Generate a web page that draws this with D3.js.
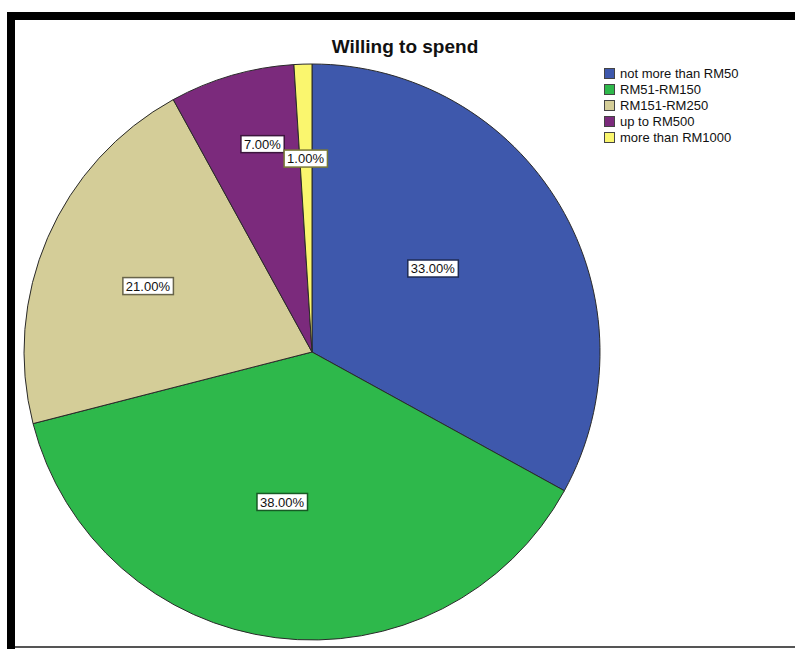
<!DOCTYPE html>
<html>
<head>
<meta charset="utf-8">
<script src="https://cdn.jsdelivr.net/npm/d3@7/dist/d3.min.js"></script>
<style>
  html, body { margin: 0; padding: 0; background: #fff; }
  svg { display: block; }
  text { font-family: "Liberation Sans", Arial, sans-serif; }
</style>
</head>
<body>
<svg id="chart" width="795" height="649"></svg>
<script>
// Survey answers: how much respondents are willing to spend
const categories = ["not more than RM50", "RM51-RM150", "RM151-RM250", "up to RM500", "more than RM1000"];
const percents = [33, 38, 21, 7, 1];
const colors = ["#3e58ac", "#2eb84b", "#d4cd98", "#7b2a7c", "#faf66e"];
const title = "Willing to spend";

// Where each percentage tag sits inside its slice:
// share of the slice's sweep, and fraction of the radius
const labelSweep = [0.466, 0.53, 0.48, 0.61, 0.47];
const labelDepth = [0.51, 0.531, 0.614, 0.742, 0.672];

const W = 795, H = 649;
const svg = d3.select("#chart");

// Outer frame
svg.append("rect").attr("x", 0).attr("y", 0).attr("width", W).attr("height", H).attr("fill", "#fff");
svg.append("rect").attr("x", 7).attr("y", 12).attr("width", 8).attr("height", H - 12).attr("fill", "#000");
svg.append("rect").attr("x", 7).attr("y", 12).attr("width", W - 7).attr("height", 8).attr("fill", "#000");
svg.append("rect").attr("x", 15).attr("y", 646).attr("width", W - 15).attr("height", 2).attr("fill", "#555");

// Title, centred on the framed area
svg.append("text")
  .attr("x", 405).attr("y", 53)
  .attr("text-anchor", "middle")
  .attr("font-size", 19).attr("font-weight", "bold")
  .attr("fill", "#111")
  .text(title);

const cx = 312, cy = 352, R = 288;
const data = categories.map((c, i) => ({
  cat: c, value: percents[i], color: colors[i], sweep: labelSweep[i], depth: labelDepth[i]
}));

const pie = d3.pie().sort(null).value(d => d.value).startAngle(0).endAngle(2 * Math.PI);
const arcs = pie(data);
const arc = d3.arc().innerRadius(0).outerRadius(R);

const g = svg.append("g").attr("transform", `translate(${cx},${cy})`);
g.selectAll("path.slice")
  .data(arcs)
  .enter().append("path")
  .attr("class", "slice")
  .attr("d", arc)
  .attr("fill", d => d.data.color)
  .attr("stroke", "#2a2a2a")
  .attr("stroke-width", 1);

// Percentage tags
const fmt = d3.format(".2f");
const tags = g.selectAll("g.tag")
  .data(arcs)
  .enter().append("g")
  .attr("class", "tag")
  .attr("transform", d => {
    const r = R * d.data.depth;
    const a = d.startAngle + (d.endAngle - d.startAngle) * d.data.sweep;
    return `translate(${r * Math.sin(a)},${-r * Math.cos(a)})`;
  });

tags.append("text")
  .attr("text-anchor", "middle")
  .attr("dy", "0.36em")
  .attr("font-size", 13)
  .attr("fill", "#111")
  .text(d => fmt(d.data.value) + "%");

tags.each(function(d) {
  const t = d3.select(this).select("text");
  const bb = t.node().getBBox();
  d3.select(this).insert("rect", "text")
    .attr("x", bb.x - 3).attr("y", -8.5)
    .attr("width", bb.width + 6).attr("height", 17)
    .attr("fill", "#fff")
    .attr("stroke", d3.color(d.data.color).darker(2))
    .attr("stroke-width", 1.5);
});

// Legend
const lg = svg.append("g").attr("transform", "translate(604,68)");
const rows = lg.selectAll("g.row")
  .data(data)
  .enter().append("g")
  .attr("class", "row")
  .attr("transform", (d, i) => `translate(0,${i * 16})`);
rows.append("rect")
  .attr("x", 0.5).attr("y", 0.5)
  .attr("width", 10).attr("height", 10)
  .attr("fill", d => d.color)
  .attr("stroke", "#444").attr("stroke-width", 1);
rows.append("text")
  .attr("x", 16).attr("y", 10)
  .attr("font-size", 13)
  .attr("fill", "#111")
  .text(d => d.cat);
</script>
</body>
</html>
